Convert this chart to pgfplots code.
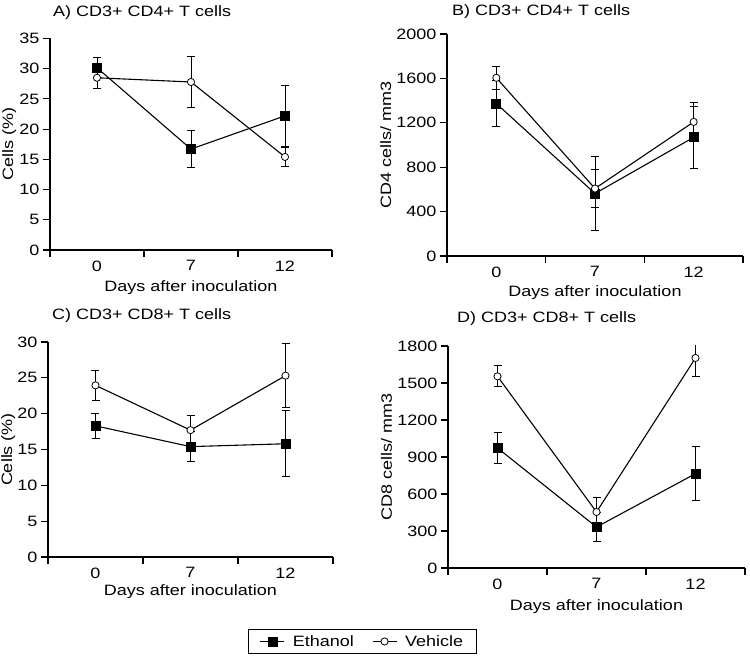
\documentclass[border=0pt]{standalone}
\usepackage{fontspec}
\setmainfont{Liberation Sans}[FakeStretch=1.2]
\usepackage{pgfplots}
\pgfplotsset{compat=1.18}
\newcommand{\ff}{\fontsize{15}{18}\selectfont}
\pgfplotsset{
  panel/.style={
    scale only axis,
    axis lines=left,
    axis line style={-, line width=1.1pt},
    xmin=-0.5, xmax=2.5, ymin=0,
    xtick={0,1,2}, xticklabels={0,7,12},
    minor xtick={-0.5,0.5,1.5,2.5},
    major x tick style={draw=none},
    tick align=outside,
    major tick length=7pt, minor tick length=7pt,
    tick style={line width=1.1pt, black},
    scaled ticks=false,
    /pgf/number format/1000 sep={},
    /pgf/number format/assume math mode=true,
    every tick label/.append style={font=\ff},
    every axis x label/.style={at={(axis description cs:0.5,0)}, anchor=base, font=\ff},
    every axis y label/.style={rotate=90, anchor=base, font=\ff},
    legend image code/.code={\draw[mark repeat=2,mark phase=2] plot coordinates {(0pt,0pt)(12pt,0pt)(24pt,0pt)};},
  },
  eth/.style={black, line width=1.1pt, mark=square*, mark size=4.5pt,
    mark options={solid, fill=black, line width=0.8pt},
    error bars/.cd, y dir=both, y explicit,
    error bar style={line width=0.9pt},
    error mark options={rotate=90, mark size=4pt, line width=0.9pt}},
  veh/.style={black, line width=1.1pt, mark=*, mark size=3.6pt,
    mark options={solid, fill=white, line width=0.8pt},
    error bars/.cd, y dir=both, y explicit,
    error bar style={line width=0.9pt},
    error mark options={rotate=90, mark size=4pt, line width=0.9pt}},
}
\begin{document}
\begin{tikzpicture}
\useasboundingbox (0pt,0pt) rectangle (750pt,661pt);

% Panel A
\begin{axis}[panel, at={(50pt,411pt)}, anchor=south west,
  width=282pt, height=211.5pt, ymax=35, ytick={0,5,...,35},
  xlabel={Days after inoculation}, ylabel={Cells (\%)},
  xlabel style={yshift=-42pt},
  ylabel style={at={(axis description cs:-0.131,0.5)}}]
\addplot[eth] coordinates {(0,30.15) +- (0,1.7) (1,16.7) +- (0,3.05) (2,22.2) +- (0,5.05)};
\addplot[veh] coordinates {(0,28.5) +- (0,1.7) (1,27.8) +- (0,4.25) (2,15.4) +- (0,1.65)};
\end{axis}

% Panel B
\begin{axis}[panel, at={(447pt,405pt)}, anchor=south west,
  width=296pt, height=222pt, ymax=2000, ytick={0,400,...,2000},
  xlabel={Days after inoculation}, ylabel={CD4 cells/ mm3},
  xlabel style={yshift=-41pt},
  ylabel style={at={(axis description cs:-0.189,0.5)}}]
\addplot[eth] coordinates {(0,1373) +- (0,210) (1,563) +- (0,331) (2,1069) +- (0,280)};
\addplot[veh] coordinates {(0,1605) +- (0,105) (1,608) +- (0,170) (2,1208) +- (0,175)};
\end{axis}

% Panel C
\begin{axis}[panel, at={(48pt,104pt)}, anchor=south west,
  width=285pt, height=215pt, ymax=30, ytick={0,5,...,30},
  xlabel={Days after inoculation}, ylabel={Cells (\%)},
  xlabel style={yshift=-39pt},
  ylabel style={at={(axis description cs:-0.126,0.5)}},
  legend columns=2,
  legend style={at={(axis description cs:1.1035,-0.393)}, anchor=center,
    draw=black, line width=0.8pt, font=\ff, inner xsep=11pt, inner ysep=3.5pt,
    /tikz/column 1/.style={column sep=6pt},
    /tikz/column 2/.style={column sep=16pt},
    /tikz/column 3/.style={column sep=6pt}}]
\addplot[eth] coordinates {(0,18.3) +- (0,1.7) (1,15.4) +- (0,2.05) (2,15.8) +- (0,4.6)};
\addlegendentry{Ethanol}
\addplot[veh] coordinates {(0,23.95) +- (0,2.1) (1,17.7) +- (0,2.0) (2,25.3) +- (0,4.5)};
\addlegendentry{Vehicle}
\end{axis}

% Panel D
\begin{axis}[panel, at={(448pt,93pt)}, anchor=south west,
  width=297pt, height=222pt, ymax=1800, ytick={0,300,...,1800},
  xlabel={Days after inoculation}, ylabel={CD8 cells/ mm3},
  xlabel style={yshift=-43pt},
  ylabel style={at={(axis description cs:-0.189,0.5)}}]
\addplot[eth] coordinates {(0,973) +- (0,128) (1,332) +- (0,115) (2,765) +- (0,220)};
\addplot[veh] coordinates {(0,1554) +- (0,85) (1,454) +- (0,120) (2,1703) +- (0,150)};
\end{axis}

\node[anchor=base west, font=\ff, inner sep=0pt] at (53pt,644pt) {A) CD3+ CD4+ T cells};
\node[anchor=base west, font=\ff, inner sep=0pt] at (452pt,645pt) {B) CD3+ CD4+ T cells};
\node[anchor=base west, font=\ff, inner sep=0pt] at (52pt,341.5pt) {C) CD3+ CD8+ T cells};
\node[anchor=base west, font=\ff, inner sep=0pt] at (457pt,338.5pt) {D) CD3+ CD8+ T cells};
\end{tikzpicture}
\end{document}
